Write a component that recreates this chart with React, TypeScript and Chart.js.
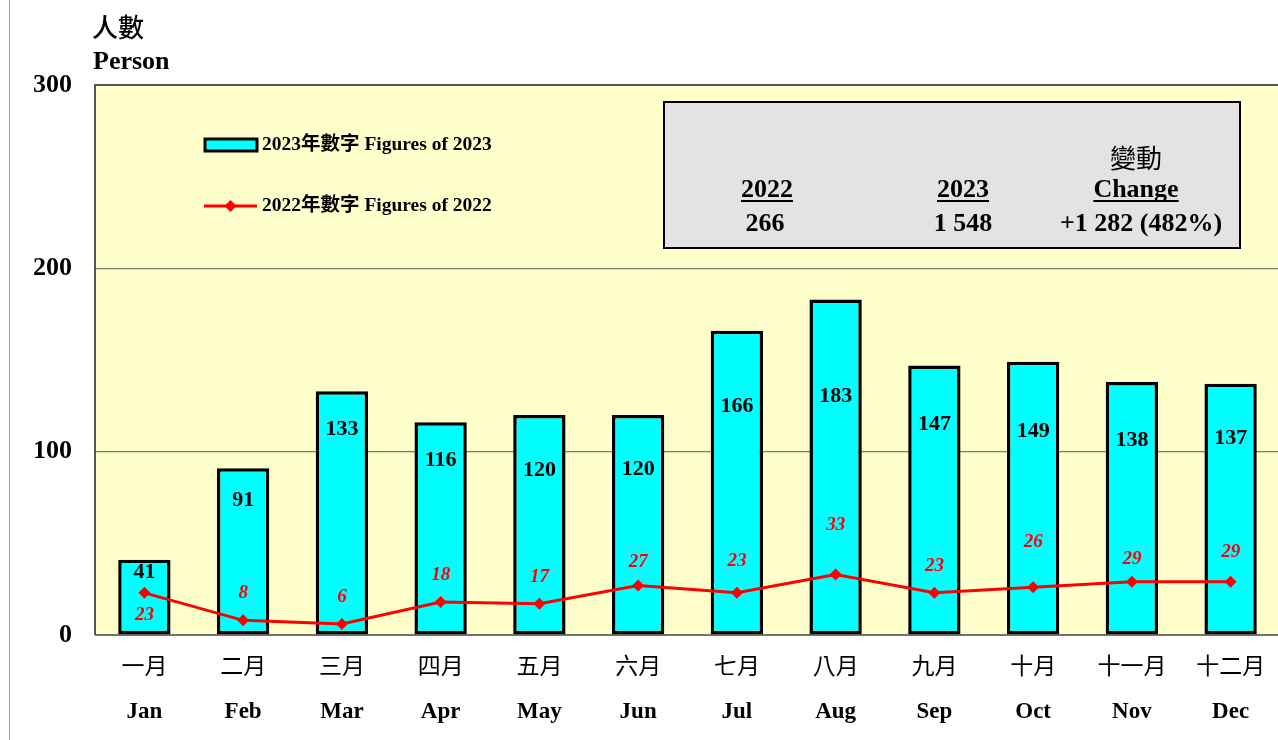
import React, { useEffect, useRef } from "react";
import { Chart, registerables } from "chart.js";

Chart.register(...registerables);

const monthsZh = ["一月", "二月", "三月", "四月", "五月", "六月", "七月", "八月", "九月", "十月", "十一月", "十二月"];
const monthsEn = ["Jan", "Feb", "Mar", "Apr", "May", "Jun", "Jul", "Aug", "Sep", "Oct", "Nov", "Dec"];
const figures2023 = [41, 91, 133, 116, 120, 120, 166, 183, 147, 149, 138, 137];
const figures2022 = [23, 8, 6, 18, 17, 27, 23, 33, 23, 26, 29, 29];
// label anchor positions (in axis value units)
const barLabelAt = [34.2, 73.6, 112.2, 95.5, 89.6, 90.5, 124.9, 130.4, 115.1, 110.9, 106.4, 107.3];
const lineLabelAt = [10.9, 22.7, 20.6, 32.7, 31.8, 40.0, 40.4, 60.0, 37.8, 50.9, 41.3, 45.1];
const yTicks = [0, 100, 200, 300];
const legendLabels = ["2023年數字 Figures of 2023", "2022年數字 Figures of 2022"];
const summaryHeads = ["2022", "2023", "Change"];
const summaryValues = ["266", "1 548", "+1 282 (482%)"];
const summaryTopNote = "變動";

const SERIF = "'Liberation Serif', 'Times New Roman', 'Noto Sans CJK TC', serif";
const CJK = "'Noto Sans CJK TC', 'Noto Sans CJK SC', sans-serif";

const overlay = {
  id: "overlay",
  beforeDraw(chart: any) {
    const { ctx, chartArea } = chart;
    ctx.save();
    ctx.fillStyle = "#FFFFCC";
    ctx.fillRect(chartArea.left, chartArea.top, chartArea.right - chartArea.left, chartArea.bottom - chartArea.top);
    ctx.strokeStyle = "#9a9a9a";
    ctx.lineWidth = 1;
    ctx.beginPath();
    ctx.moveTo(9.5, 0);
    ctx.lineTo(9.5, chart.height);
    ctx.stroke();
    ctx.restore();
  },
  afterDatasetsDraw(chart: any) {
    const { ctx } = chart;
    const y = chart.scales.y;
    const barMeta = chart.getDatasetMeta(1);
    const lineMeta = chart.getDatasetMeta(0);
    ctx.save();
    ctx.textAlign = "center";
    ctx.textBaseline = "middle";
    ctx.fillStyle = "#000";
    ctx.font = `bold 22px ${SERIF}`;
    figures2023.forEach((v, i) => {
      const el = barMeta.data[i];
      ctx.fillText(String(v), el.x, y.getPixelForValue(barLabelAt[i]));
    });
    ctx.fillStyle = "#FF0000";
    ctx.font = `italic bold 19px ${SERIF}`;
    figures2022.forEach((v, i) => {
      const el = lineMeta.data[i];
      ctx.fillText(String(v), el.x, y.getPixelForValue(lineLabelAt[i]));
    });
    ctx.restore();
  },
  afterDraw(chart: any) {
    const { ctx, chartArea } = chart;
    const x = chart.scales.x;
    ctx.save();
    // plot border
    ctx.strokeStyle = "#222";
    ctx.lineWidth = 1.5;
    ctx.beginPath();
    ctx.moveTo(chartArea.left, chartArea.bottom);
    ctx.lineTo(chartArea.left, chartArea.top);
    ctx.lineTo(chartArea.right, chartArea.top);
    ctx.stroke();
    ctx.strokeStyle = "#444";
    ctx.beginPath();
    ctx.moveTo(chartArea.left, chartArea.bottom);
    ctx.lineTo(chartArea.right, chartArea.bottom);
    ctx.stroke();

    // axis title
    ctx.fillStyle = "#000";
    ctx.textAlign = "left";
    ctx.textBaseline = "middle";
    ctx.font = `500 26px ${CJK}`;
    ctx.fillText("人數", 92, 27);
    ctx.textBaseline = "alphabetic";
    ctx.font = `bold 26px ${SERIF}`;
    ctx.fillText("Person", 93, 69);

    // x labels
    ctx.textAlign = "center";
    monthsZh.forEach((m, i) => {
      const px = x.getPixelForValue(i);
      ctx.textBaseline = "middle";
      ctx.font = `23px ${CJK}`;
      ctx.fillText(m, px, 665);
      ctx.textBaseline = "alphabetic";
      ctx.font = `bold 23px ${SERIF}`;
      ctx.fillText(monthsEn[i], px, 718);
    });

    // legend
    ctx.fillStyle = "#00FFFF";
    ctx.fillRect(205, 139, 52, 12);
    ctx.strokeStyle = "#000";
    ctx.lineWidth = 3;
    ctx.strokeRect(205, 139, 52, 12);
    ctx.strokeStyle = "#FF0000";
    ctx.lineWidth = 3;
    ctx.beginPath();
    ctx.moveTo(204, 206);
    ctx.lineTo(257, 206);
    ctx.stroke();
    ctx.fillStyle = "#FF0000";
    ctx.beginPath();
    ctx.moveTo(230.5, 200);
    ctx.lineTo(236.5, 206);
    ctx.lineTo(230.5, 212);
    ctx.lineTo(224.5, 206);
    ctx.closePath();
    ctx.fill();
    ctx.fillStyle = "#000";
    ctx.textAlign = "left";
    ctx.textBaseline = "middle";
    ctx.font = `bold 19.5px ${SERIF}`;
    ctx.fillText(legendLabels[0], 262, 145);
    ctx.fillText(legendLabels[1], 262, 206);

    // summary box
    ctx.fillStyle = "#E3E3E3";
    ctx.fillRect(664, 102, 576, 146);
    ctx.strokeStyle = "#000";
    ctx.lineWidth = 2;
    ctx.strokeRect(664, 102, 576, 146);
    const cols = [767, 963, 1136];
    const valCols = [765, 963, 1141];
    ctx.fillStyle = "#000";
    ctx.textAlign = "center";
    ctx.textBaseline = "middle";
    ctx.font = `26px ${CJK}`;
    ctx.fillText(summaryTopNote, cols[2], 158);
    ctx.textBaseline = "alphabetic";
    ctx.font = `bold 26px ${SERIF}`;
    summaryHeads.forEach((h, i) => {
      ctx.fillText(h, cols[i], 197);
      const w = ctx.measureText(h).width;
      ctx.lineWidth = 2;
      ctx.beginPath();
      ctx.moveTo(cols[i] - w / 2, 201);
      ctx.lineTo(cols[i] + w / 2, 201);
      ctx.stroke();
    });
    summaryValues.forEach((v, i) => {
      ctx.fillText(v, valCols[i], 231);
    });
    ctx.restore();
  },
};

export default function App() {
  const ref = useRef<HTMLCanvasElement | null>(null);
  useEffect(() => {
    document.body.style.overflow = "hidden";
    const canvas = ref.current!;
    const chart = new Chart(canvas, {
      type: "bar",
      data: {
        labels: monthsEn,
        datasets: [
          {
            type: "line",
            label: legendLabels[1],
            data: figures2022,
            borderColor: "#FF0000",
            backgroundColor: "#FF0000",
            borderWidth: 3,
            pointStyle: "rectRot",
            pointRadius: 6,
            pointBorderWidth: 0,
            pointBackgroundColor: "#FF0000",
            tension: 0,
            order: 0,
          } as any,
          {
            type: "bar",
            label: legendLabels[0],
            data: figures2023,
            backgroundColor: "#00FFFF",
            borderColor: "#000000",
            borderWidth: 3.5,
            borderSkipped: false,
            categoryPercentage: 1,
            barPercentage: 0.53,
            order: 1,
          } as any,
        ],
      },
      options: {
        responsive: false,
        animation: false,
        devicePixelRatio: 1,
        layout: { padding: { left: 0, right: 1, top: 85, bottom: 0 } },
        plugins: { legend: { display: false }, tooltip: { enabled: false }, title: { display: false } },
        scales: {
          x: {
            grid: { display: false, drawTicks: false },
            border: { display: false },
            ticks: { display: false },
            afterFit: (s: any) => {
              s.height = 105;
            },
          },
          y: {
            min: 0,
            max: 300,
            afterBuildTicks: (s: any) => {
              s.ticks = yTicks.map((v) => ({ value: v }));
            },
            grid: {
              drawTicks: false,
              color: (c: any) => (c.tick && (c.tick.value === 300 || c.tick.value === 0) ? "rgba(0,0,0,0)" : "#7a7a68"),
              lineWidth: 1.2,
            },
            border: { display: false },
            ticks: {
              color: "#000",
              padding: 23,
              font: { family: SERIF, size: 26, weight: "bold" },
            },
            afterFit: (s: any) => {
              s.width = 95;
            },
          },
        },
      },
      plugins: [overlay],
    });
    return () => chart.destroy();
  }, []);
  return (
    <div style={{ position: "fixed", left: 0, top: 0, width: "100vw", height: "100vh", overflow: "hidden", background: "#fff" }}>
      <canvas ref={ref} width={1286} height={740} style={{ display: "block", width: 1286, height: 740 }} />
    </div>
  );
}
